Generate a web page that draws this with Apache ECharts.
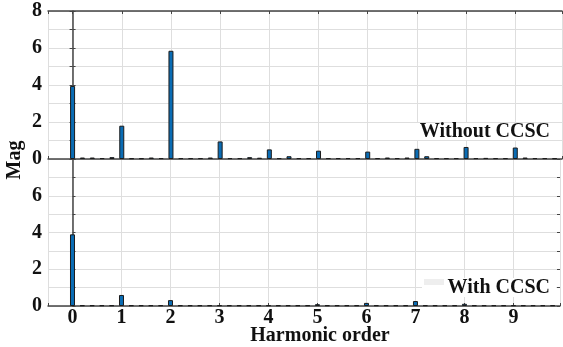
<!DOCTYPE html>
<html>
<head>
<meta charset="utf-8">
<script src="https://cdn.jsdelivr.net/npm/echarts@6/dist/echarts.min.js"></script>
<style>html,body{margin:0;padding:0;background:#fff}#c{width:563px;height:347px}</style>
</head>
<body>
<div id="c"></div>
<script>
// Harmonic orders (0.2 step)
const orders = [0,0.2,0.4,0.6,0.8,1,1.2,1.4,1.6,1.8,2,2.2,2.4,2.6,2.8,3,3.2,3.4,3.6,3.8,
  4,4.2,4.4,4.6,4.8,5,5.2,5.4,5.6,5.8,6,6.2,6.4,6.6,6.8,7,7.2,7.4,7.6,7.8,
  8,8.2,8.4,8.6,8.8,9,9.2,9.4,9.6,9.8];
const withoutCCSC = [3.95,0.08,0.08,0.05,0.1, 1.8,0.04,0.04,0.08,0.05,
  5.85,0.05,0.05,0.05,0.08, 0.95,0.05,0.05,0.1,0.07,
  0.52,0.05,0.15,0.05,0.05, 0.45,0.05,0.05,0.05,0.05,
  0.4,0.05,0.08,0.05,0.08, 0.55,0.15,0.05,0.05,0.05,
  0.65,0.05,0.06,0.05,0.05, 0.62,0.08,0.05,0.05,0.04];
const withCCSC = [3.9,0.04,0.04,0.04,0.04, 0.6,0.04,0.04,0.04,0.04,
  0.32,0.04,0.04,0.04,0.04, 0.04,0.04,0.04,0.04,0.04,
  0.04,0.04,0.04,0.04,0.04, 0.1,0.04,0.04,0.04,0.04,
  0.17,0.04,0.04,0.04,0.04, 0.27,0.04,0.04,0.04,0.04,
  0.12,0.04,0.04,0.04,0.04, 0.04,0.04,0.04,0.04,0.04];
const xTickLabels = ['0','1','2','3','4','5','6','7','8','9'];
const yTickLabels = ['0','2','4','6','8'];

const FONT = '"Liberation Serif","Times New Roman",serif';
const axisCol = '#444';
const gridCol = '#dedede';

function xAx(gridIndex, position, showLabel){
  return {
    type:'value', gridIndex, position, min:-0.5, max:9.95, splitNumber:10,
    axisLine:{show:true, onZero:false, lineStyle:{color:axisCol, width:1.5}},
    axisTick:{show:true, inside:true, length:3, lineStyle:{color:axisCol}},
    splitLine:{show:position==='bottom', lineStyle:{color:gridCol, width:1}},
    axisLabel:{show:showLabel, margin:2, color:'#111', fontFamily:FONT, fontWeight:'bold', fontSize:20,
      formatter:v=>{const s=String(Math.round(v)); return Math.abs(v-Math.round(v))<1e-6 && xTickLabels.includes(s)? s : '';}}
  };
}
function yAx(gridIndex, position, showLabel, hideTop){
  return {
    type:'value', gridIndex, position, min:0, max:8, interval:1,
    axisLine:{show:position==='left', lineStyle:{color:axisCol, width:1.5}},
    axisTick:{show:true, inside:true, length:3, lineStyle:{color:axisCol}},
    splitLine:{show:position==='left', lineStyle:{color:gridCol, width:1}},
    axisLabel:{show:showLabel, margin:6, color:'#111', fontFamily:FONT, fontWeight:'bold', fontSize:20,
      formatter:v=>{const s=String(v); if(hideTop && v===8) return ''; return yTickLabels.includes(s)? s : '';}}
  };
}
const barStyle = {color:'#0a6cb4', borderColor:'#1b1b1b', borderWidth:1};

const chart = echarts.init(document.getElementById('c'), null, {renderer:'canvas'});
chart.setOption({
  animation:false,
  backgroundColor:'#fff',
  grid:[
    {left:48, right:1, top:11, height:148},
    {left:48, right:1, top:159, height:147}
  ],
  xAxis:[ xAx(0,'bottom',false), xAx(0,'top',false), xAx(1,'bottom',true) ],
  yAxis:[ yAx(0,'left',true,false), yAx(0,'right',false,false), yAx(1,'left',true,true), yAx(1,'right',false,false) ],
  series:[
    {type:'bar', xAxisIndex:0, yAxisIndex:0, barWidth:5, itemStyle:barStyle,
     data:orders.map((o,i)=>[o, withoutCCSC[i]])},
    {type:'bar', xAxisIndex:2, yAxisIndex:2, barWidth:5, itemStyle:barStyle,
     data:orders.map((o,i)=>[o, withCCSC[i]])}
  ],
  graphic:[
    {type:'text', x:15, y:160, rotation:Math.PI/2, style:{text:'Mag', font:'bold 20px '+FONT, fill:'#111', textAlign:'center', textVerticalAlign:'middle'}},
    {type:'text', x:320, y:336, style:{text:'Harmonic order', font:'bold 20px '+FONT, fill:'#111', textAlign:'center', textVerticalAlign:'middle'}},
    {type:'rect', shape:{x:412, y:123, width:144, height:17}, style:{fill:'#ffffff'}, z:100},
    {type:'text', x:550, y:132, z:101, style:{text:'Without CCSC', font:'bold 20px '+FONT, fill:'#111', textAlign:'right', textVerticalAlign:'middle'}},
    {type:'rect', shape:{x:422, y:278, width:134, height:19}, style:{fill:'#ffffff'}, z:100},
    {type:'rect', shape:{x:424, y:279, width:20, height:6}, style:{fill:'#eeeeee'}, z:101},
    {type:'text', x:550, y:288, z:101, style:{text:'With CCSC', font:'bold 20px '+FONT, fill:'#111', textAlign:'right', textVerticalAlign:'middle'}}
  ]
});
</script>
</body>
</html>
